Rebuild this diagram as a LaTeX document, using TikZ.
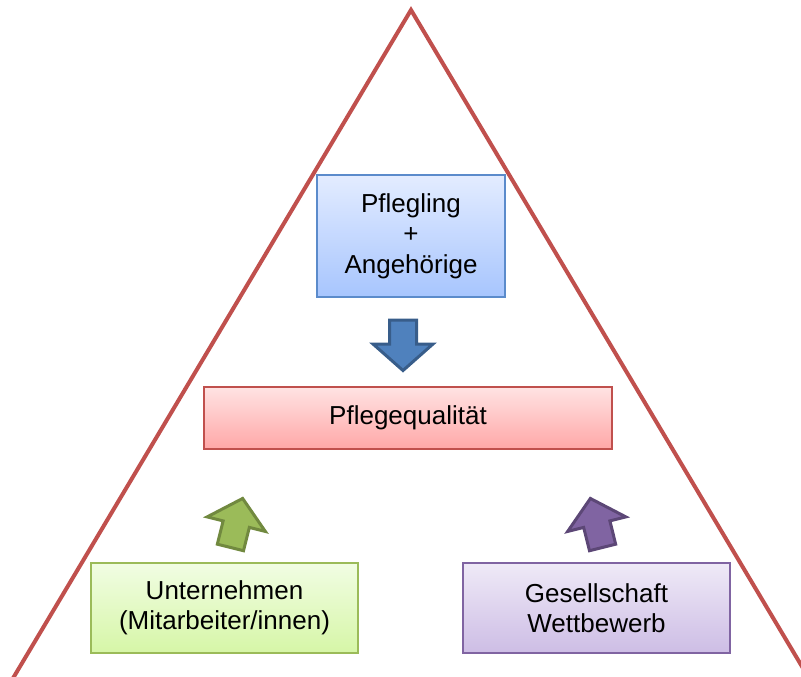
\documentclass[tikz,border=0pt]{standalone}
\usepackage{fontspec}
\setmainfont{Liberation Sans}
\begin{document}
\begin{tikzpicture}[x=1pt,y=-1pt,
  box/.style={draw, line width=1.5pt, inner sep=0pt, align=center,
    font=\fontsize{26}{30.5}\selectfont},
  bluebox/.style={box, draw=boxblue, top color=blueTop, bottom color=blueBot},
  redbox/.style={box, draw=frame, top color=redTop, bottom color=redBot},
  greenbox/.style={box, draw=greenLine, top color=greenTop, bottom color=greenBot},
  purplebox/.style={box, draw=purpleLine, top color=purpleTop, bottom color=purpleBot},
  blockarrow/.pic={
    \path[pic actions] (0pt,-1.5pt) -- (30pt,-28pt) -- (13.5pt,-28pt)
      -- (13.5pt,-52pt) -- (-13.5pt,-52pt) -- (-13.5pt,-28pt)
      -- (-30pt,-28pt) -- cycle;
  },
  arrowstyle/.style={line width=3pt, line join=miter}
]
\definecolor{frame}{HTML}{C0504D}
\definecolor{boxblue}{HTML}{5B8BCB}
\definecolor{blueTop}{HTML}{E3ECFF}
\definecolor{blueBot}{HTML}{A7C5FE}
\definecolor{redTop}{HTML}{FFE3E3}
\definecolor{redBot}{HTML}{FFA7A7}
\definecolor{greenLine}{HTML}{9BBB59}
\definecolor{greenTop}{HTML}{F1FDE3}
\definecolor{greenBot}{HTML}{D6F6A7}
\definecolor{purpleLine}{HTML}{8064A2}
\definecolor{purpleTop}{HTML}{EFEAF7}
\definecolor{purpleBot}{HTML}{CDBDE5}
\definecolor{arrowBlue}{HTML}{4F81BD}
\definecolor{arrowBlueLine}{HTML}{385D8A}
\definecolor{arrowGreen}{HTML}{9BBB59}
\definecolor{arrowGreenLine}{HTML}{71893F}
\definecolor{arrowPurple}{HTML}{8064A2}
\definecolor{arrowPurpleLine}{HTML}{5C4776}

\useasboundingbox (0,0) rectangle (801,677);
\clip (0,0) rectangle (801,677);

% open triangle (no base line)
\coordinate (apex) at (411,10);
\coordinate (baseL) at (6,690);
\coordinate (baseR) at (816,690);
\draw[frame, line width=4pt, line join=miter] (baseL) -- (apex) -- (baseR);

% boxes
\node[bluebox, minimum width=188pt, minimum height=122pt] (patient) at (411,236)
  {Pflegling\\+\\Angehörige};
\node[redbox, minimum width=408pt, minimum height=62pt] (quality) at (408,418)
  {Pflegequalität};
\node[greenbox, minimum width=267pt, minimum height=90pt] (company) at (224.5,608)
  {Unternehmen\\(Mitarbeiter/innen)};
\node[purplebox, minimum width=267pt, minimum height=90pt] (society) at (596.5,608)
  {Gesellschaft\\Wettbewerb};

% block arrows
\coordinate (tipBlue) at (403,372);
\coordinate (tipGreen) at (243,497);
\coordinate (tipPurple) at (590,497);
\pic[arrowstyle, draw=arrowBlueLine, fill=arrowBlue, rotate=180] at (tipBlue) {blockarrow};
\pic[arrowstyle, draw=arrowGreenLine, fill=arrowGreen, rotate=-14] at (tipGreen) {blockarrow};
\pic[arrowstyle, draw=arrowPurpleLine, fill=arrowPurple, rotate=14] at (tipPurple) {blockarrow};
\end{tikzpicture}
\end{document}
